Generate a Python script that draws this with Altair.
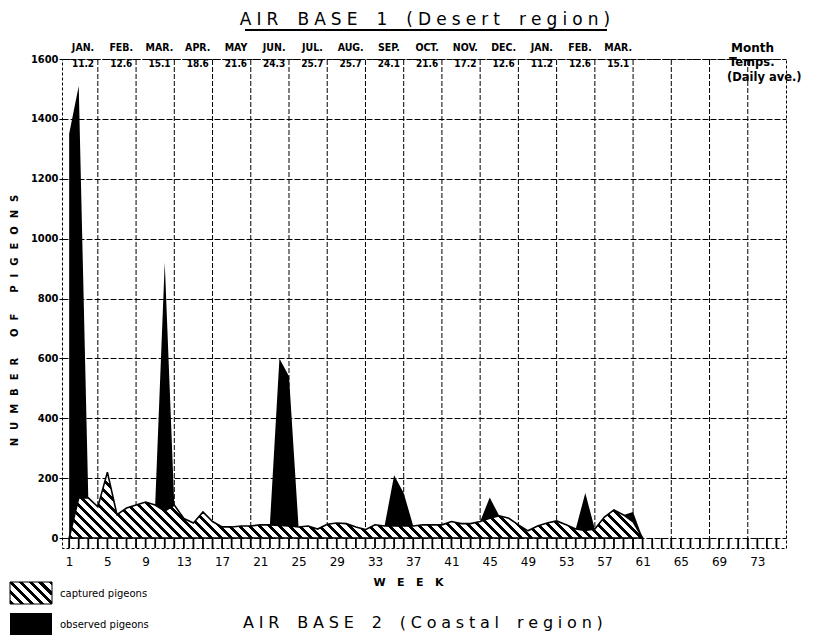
import altair as alt
import pandas as pd

# ---------------- data ----------------
weeks = list(range(1, 62))
captured = [0, 134, 134, 104, 220, 78, 100, 110, 120, 110,
            90, 110, 65, 50, 87, 55, 37, 37, 40, 40,
            44, 44, 42, 40, 37, 40, 30, 46, 50, 48,
            37, 28, 44, 40, 40, 40, 40, 44, 44, 44,
            55, 48, 48, 55, 66, 74, 66, 44, 24, 40,
            50, 57, 44, 30, 25, 30, 70, 94, 77, 54, 0]
observed = [1350, 1510, 134, 104, 220, 78, 100, 110, 120, 110,
            920, 110, 65, 50, 87, 55, 37, 37, 40, 40,
            44, 44, 600, 540, 37, 40, 30, 46, 50, 48,
            37, 28, 44, 40, 210, 150, 40, 44, 44, 44,
            55, 48, 48, 55, 135, 74, 66, 44, 24, 40,
            50, 57, 44, 30, 150, 30, 70, 94, 77, 87, 0]
months = ["JAN.", "FEB.", "MAR.", "APR.", "MAY", "JUN.", "JUL.", "AUG.",
          "SEP.", "OCT.", "NOV.", "DEC.", "JAN.", "FEB.", "MAR."]
temps = ["11.2", "12.6", "15.1", "18.6", "21.6", "24.3", "25.7", "25.7",
         "24.1", "21.6", "17.2", "12.6", "11.2", "12.6", "15.1"]
x_ticks = list(range(1, 74, 4))
y_ticks = list(range(0, 1601, 200))
grid_weeks = list(range(4, 73, 4))
ruler_weeks = list(range(1, 76))

# ---------------- layout ----------------
W, H = 724, 489
XDOM = [0.25, 76]
YDOM = [-33.4, 1600]
px_week = W / (XDOM[1] - XDOM[0])
px_unit = H / (YDOM[1] - YDOM[0])

COND = "Liberation Sans Narrow, DejaVu Sans Condensed, Liberation Sans, sans-serif"
MAIN = "DejaVu Sans, sans-serif"
NB = "\u00a0"


def hatch(bw, bh, period=10.0, duty=0.45):
    total = bw + bh
    n = total / period
    stops = []
    i = 0
    while i < n:
        a = i / n
        b = min((i + duty) / n, 1.0)
        c = min((i + 1) / n, 1.0)
        stops += [(a, "black"), (b, "black"), (b, "white"), (c, "white")]
        i += 1
    k = total / (bw * bw + bh * bh)
    return alt.Gradient(
        gradient="linear",
        stops=[alt.GradientStop(color=col, offset=o) for o, col in stops],
        x1=0, y1=1, x2=k * bw, y2=1 - k * bh,
    )


def spaced(s, sep="\u2009\u200a", word=NB + "\u2009"):
    return sep.join([word if ch == " " else ch for ch in s])


XT = spaced("WEEK", NB * 3)
YT = spaced("NUMBER OF PIGEONS", NB + NB + "\u200a", "\u2002")

xs = alt.Scale(domain=XDOM, nice=False, zero=False)
ys = alt.Scale(domain=YDOM, nice=False, zero=False)

X_AXIS = alt.Axis(values=x_ticks, title=XT, grid=False, domain=False,
                  ticks=False, labelPadding=8, labelFont=MAIN, labelFontSize=12,
                  labelColor="black", titleFont=MAIN, titleFontSize=11,
                  titleFontWeight="bold", titleColor="black",
                  titleX=346, titleY=34, titleBaseline="middle", titleAlign="center")
Y_AXIS = alt.Axis(values=y_ticks, format="d", title=YT, grid=True,
                  gridColor="black", gridDash=[6, 2], gridWidth=1, domain=False,
                  tickSize=3, tickColor="black", labelPadding=1, labelFont=COND,
                  labelFontSize=11, labelFontWeight="bold", labelColor="black",
                  titleFont=MAIN, titleFontSize=10, titleFontWeight="bold",
                  titleColor="black",
                  titleX=-48, titleY=261, titleBaseline="middle", titleAngle=270)


def xe(field="week"):
    return alt.X(f"{field}:Q", scale=xs, axis=X_AXIS, title=XT)


def ye(field="v"):
    return alt.Y(f"{field}:Q", scale=ys, axis=Y_AXIS, title=YT)


df = pd.DataFrame({"week": weeks, "cap": captured, "obs": observed,
                   "z": [0] * len(weeks)})

# vertical grid lines
gdf = pd.DataFrame({"week": grid_weeks, "lo": [YDOM[0]] * len(grid_weeks),
                    "hi": [1600] * len(grid_weeks)})
grid = alt.Chart(gdf).mark_rule(color="black", strokeDash=[5, 2], strokeWidth=1).encode(
    x=xe(), y=ye("lo"), y2="hi:Q")

# weekly ruler strip below the zero line
rdf = pd.DataFrame({"week": ruler_weeks, "top": [0] * len(ruler_weeks)})
ruler = alt.Chart(rdf).mark_rule(color="black", strokeWidth=1.8).encode(
    x=xe(), y=ye("top"), y2=alt.value(H))

obs_area = alt.Chart(df).mark_area(color="black", interpolate="linear").encode(
    x=xe(), y=ye("obs"), y2="z:Q")

Wc = (weeks[-1] - weeks[0]) * px_week
Hc = max(captured) * px_unit
cap_area = alt.Chart(df).mark_area(
    fill=hatch(Wc, Hc), stroke="black", strokeWidth=1.6, interpolate="linear"
).encode(x=xe(), y=ye("cap"), y2="z:Q")

# month / temperature labels
mdf = pd.DataFrame({"week": [2.45 + 4 * k for k in range(len(months))],
                    "m": months, "t": temps})
month_txt = alt.Chart(mdf).mark_text(font=COND, fontSize=10.5, fontWeight="bold",
                                     color="black", baseline="middle").encode(
    x=xe(), y=alt.value(-11), text="m:N")
temp_txt = alt.Chart(mdf).mark_text(font=COND, fontSize=10, fontWeight="bold",
                                    color="black", baseline="middle").encode(
    x=xe(), y=alt.value(5), text="t:N")

one = pd.DataFrame({"a": [0]})


def label(txt, x, y, size, weight="bold", align="left", font=MAIN, baseline="middle"):
    return alt.Chart(one).mark_text(text=txt, font=font, fontSize=size, fontWeight=weight,
                                    align=align, baseline=baseline, color="black").encode(
        x=alt.value(x), y=alt.value(y))


side = (label("Month", 669, -11, 12) + label("Temps.", 667, 4, 11.5)
        + label("(Daily ave.)", 665, 19, 11.5))

title = label(spaced("AIR BASE 1 (Desert region)"), 363, -39, 17, weight="normal",
              align="center")
underline = alt.Chart(one).mark_rule(color="black", strokeWidth=2).encode(
    x=alt.value(183), x2=alt.value(545), y=alt.value(-29))
title2 = label(spaced("AIR BASE 2 (Coastal region)"), 181, 569, 16, weight="normal",
               baseline="alphabetic")

# legend
leg_h = alt.Chart(one).mark_rect(fill=hatch(42, 22), stroke="black", strokeWidth=1).encode(
    x=alt.value(-52), x2=alt.value(-10), y=alt.value(523), y2=alt.value(545))
leg_b = alt.Chart(one).mark_rect(fill="black").encode(
    x=alt.value(-52), x2=alt.value(-10), y=alt.value(554), y2=alt.value(576))
leg_t = (label("captured pigeons", -2, 535, 10, weight="normal")
         + label("observed pigeons", -2, 566, 10, weight="normal"))

chart = alt.layer(
    grid, obs_area, cap_area, ruler, month_txt, temp_txt, side, title, underline,
    title2, leg_h, leg_b, leg_t
).properties(
    width=W, height=H,
    autosize=alt.AutoSizeParams(type="none"),
    padding={"left": 62, "top": 59, "right": 47, "bottom": 87},
    background="white",
).configure_view(stroke="black", strokeDash=[3, 2], strokeWidth=1)

chart.save("out.html", embed_options={"renderer": "svg", "actions": False})
